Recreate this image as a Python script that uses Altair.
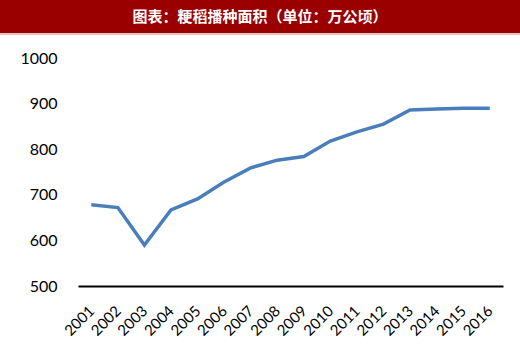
import altair as alt
import pandas as pd

years = [str(y) for y in range(2001, 2017)]
area = [678, 672, 590, 667, 691, 728, 759, 776, 784, 818, 838, 855, 886, 888, 890, 890]
title_text = "图表：粳稻播种面积（单位：万公顷）"
y_ticks = [500, 600, 700, 800, 900, 1000]

df = pd.DataFrame({"year": years, "area": area})

W, H = 425, 228
PL, PT, PR, PB = 78, 58, 17, 68

line = alt.Chart(df).mark_line(color="#4a7ebb", strokeWidth=3.5, strokeJoin="miter").encode(
    x=alt.X("year:N", sort=years,
            scale=alt.Scale(type="point", padding=0.5),
            axis=alt.Axis(title=None, labelAngle=-45, labelAlign="right", labelBaseline="middle",
                          labelPadding=22, ticks=False, domainColor="#000000", domainWidth=2,
                          labelFont="Lato", labelFontSize=15, labelColor="#000000", grid=False)),
    y=alt.Y("area:Q", scale=alt.Scale(domain=[500, 1000], nice=False, zero=False),
            axis=alt.Axis(title=None, values=y_ticks, format="d", ticks=False, domain=False, grid=False,
                          labelPadding=21, labelFont="Lato", labelFontSize=16, labelColor="#000000")),
)

bar = alt.Chart(pd.DataFrame({"t": [title_text]})).mark_rect(color="#9a0000").encode(
    x=alt.value(-PL), x2=alt.value(W + PR), y=alt.value(-PT), y2=alt.value(-PT + 33)
)
bar_line = alt.Chart(pd.DataFrame({"t": [title_text]})).mark_rule(color="#d08080", strokeWidth=1).encode(
    x=alt.value(-PL), x2=alt.value(W + PR), y=alt.value(-PT + 34)
)
txt = alt.Chart(pd.DataFrame({"t": [title_text]})).mark_text(
    color="white", font="Noto Sans CJK SC", fontWeight="bold", fontSize=15,
    align="center", baseline="middle"
).encode(text="t:N", x=alt.value((520) / 2 - PL), y=alt.value(-PT + 17))

chart = alt.layer(bar, bar_line, txt, line).properties(
    width=W, height=H,
    autosize=alt.AutoSizeParams(type="none"),
    padding={"left": PL, "top": PT, "right": PR, "bottom": PB},
    background="white",
).configure_view(stroke=None)

chart.save("out.html", embed_options={"renderer": "svg", "actions": False})
